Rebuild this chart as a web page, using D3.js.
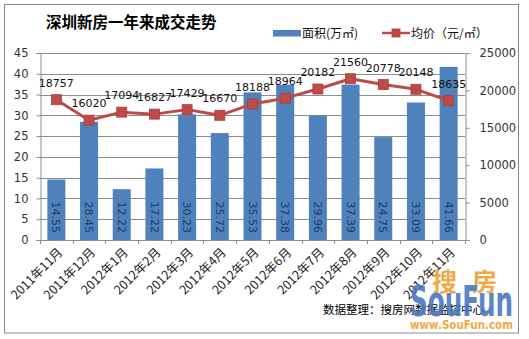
<!DOCTYPE html>
<html>
<head>
<meta charset="utf-8">
<script src="https://cdn.jsdelivr.net/npm/d3@7/dist/d3.min.js"></script>
<style>
  html, body { margin: 0; padding: 0; background: #fff; }
  svg { display: block; }
  text { font-family: "DejaVu Sans", sans-serif; }
  .cjk { font-family: "Noto Sans CJK SC", sans-serif; }
</style>
</head>
<body>
<div id="chart"></div>
<script>
// Monthly figures for Shenzhen new homes
const months = ["2011年11月", "2011年12月", "2012年1月", "2012年2月", "2012年3月", "2012年4月",
  "2012年5月", "2012年6月", "2012年7月", "2012年8月", "2012年9月", "2012年10月", "2012年11月"];
const areaValues = [14.55, 28.45, 12.22, 17.22, 30.23, 25.72, 35.53, 37.38, 29.96, 37.39, 24.75, 33.09, 41.66];
const priceValues = [18757, 16020, 17094, 16827, 17429, 16670, 18188, 18964, 20182, 21560, 20778, 20148, 18635];
const leftTicks = [0, 5, 10, 15, 20, 25, 30, 35, 40, 45];
const rightTicks = [0, 5000, 10000, 15000, 20000, 25000];

const W = 529, H = 339;
const plot = { left: 40, right: 465, top: 53, bottom: 240 };

const svg = d3.select("#chart").append("svg").attr("width", W).attr("height", H);

// outer frame
svg.append("rect").attr("x", 4.5).attr("y", 4.5).attr("width", 514).attr("height", 328.5)
  .attr("fill", "#fff").attr("stroke", "#8a8a8a").attr("stroke-width", 1);

const x = d3.scaleBand().domain(months).range([plot.left, plot.right]).paddingInner(0.45).paddingOuter(0.225);
const yL = d3.scaleLinear().domain([0, 45]).range([plot.bottom, plot.top]);
const yR = d3.scaleLinear().domain([0, 25000]).range([plot.bottom, plot.top]);

// horizontal grid
svg.append("g").selectAll("line").data(leftTicks.filter(d => d > 0)).join("line")
  .attr("x1", plot.left).attr("x2", plot.right)
  .attr("y1", d => Math.round(yL(d)) + 0.5).attr("y2", d => Math.round(yL(d)) + 0.5)
  .attr("stroke", "#8c8c8c").attr("stroke-width", 1);

// left axis
const gL = svg.append("g").attr("transform", `translate(${plot.left + 0.5},0)`)
  .call(d3.axisLeft(yL).tickValues(leftTicks).tickSize(4).tickPadding(8).tickFormat(d3.format("d")));
gL.selectAll("path, line").attr("stroke", "#8c8c8c");
gL.selectAll("text").attr("font-size", 11.5).attr("fill", "#333").attr("font-family", "DejaVu Sans");

// right axis
const gR = svg.append("g").attr("transform", `translate(${plot.right + 0.5},0)`)
  .call(d3.axisRight(yR).tickValues(rightTicks).tickSize(4).tickPadding(10).tickFormat(d3.format("d")));
gR.selectAll("path, line").attr("stroke", "#8c8c8c");
gR.selectAll("text").attr("font-size", 11.5).attr("fill", "#333").attr("font-family", "DejaVu Sans");

// bars
const barW = 18;
svg.append("g").selectAll("rect").data(months).join("rect")
  .attr("x", (d) => x(d) + x.bandwidth() / 2 - barW / 2)
  .attr("y", (d, i) => yL(areaValues[i]))
  .attr("width", barW)
  .attr("height", (d, i) => plot.bottom - yL(areaValues[i]))
  .attr("fill", "#4f81bd");

// bar value labels, rotated, sitting at the base of each bar
svg.append("g").selectAll("text").data(months).join("text")
  .attr("transform", d => `translate(${x(d) + x.bandwidth() / 2},${plot.bottom - 7}) rotate(90)`)
  .attr("text-anchor", "end")
  .attr("dy", "0.35em")
  .attr("font-size", 11)
  .attr("fill", "#1f3a5f")
  .text((d, i) => areaValues[i].toFixed(2));

// bottom axis
const gB = svg.append("g");
gB.append("line").attr("x1", plot.left).attr("x2", plot.right)
  .attr("y1", plot.bottom + 0.5).attr("y2", plot.bottom + 0.5).attr("stroke", "#8c8c8c");
const bounds = d3.range(months.length + 1).map(i => plot.left + (plot.right - plot.left) * i / months.length);
gB.selectAll("line.tk").data(bounds).join("line").attr("class", "tk")
  .attr("x1", d => Math.round(d) + 0.5).attr("x2", d => Math.round(d) + 0.5)
  .attr("y1", plot.bottom).attr("y2", plot.bottom + 4).attr("stroke", "#8c8c8c");
gB.selectAll("text").data(months).join("text")
  .attr("class", "cjk")
  .attr("transform", d => `translate(${x(d) + x.bandwidth() / 2 + 4},${plot.bottom + 10}) rotate(-45)`)
  .attr("text-anchor", "end")
  .attr("dy", "0.35em")
  .attr("font-size", 12.5)
  .attr("fill", "#222")
  .text(d => d);

// price line
const cx = (d) => x(d) + x.bandwidth() / 2;
const line = d3.line().x((d, i) => cx(months[i])).y(d => yR(d));
svg.append("path").datum(priceValues).attr("d", line)
  .attr("fill", "none").attr("stroke", "#be4b48").attr("stroke-width", 3).attr("stroke-linejoin", "round");
const mk = 10;
svg.append("g").selectAll("rect").data(priceValues).join("rect")
  .attr("x", (d, i) => cx(months[i]) - mk / 2)
  .attr("y", d => yR(d) - mk / 2)
  .attr("width", mk).attr("height", mk)
  .attr("fill", "#be4b48").attr("stroke", "#a53f3c").attr("stroke-width", 0.8);
svg.append("g").selectAll("text").data(priceValues).join("text")
  .attr("x", (d, i) => cx(months[i]))
  .attr("y", d => yR(d) - 13)
  .attr("text-anchor", "middle")
  .attr("font-size", 11)
  .attr("fill", "#111")
  .text(d => d);

// title
svg.append("text").attr("class", "cjk").attr("x", 46).attr("y", 28)
  .attr("font-size", 15.5).attr("font-weight", "bold").attr("fill", "#000")
  .text("深圳新房一年来成交走势");

// legend
const lg = svg.append("g");
lg.append("rect").attr("x", 273).attr("y", 30).attr("width", 28).attr("height", 6.5).attr("fill", "#4f81bd");
lg.append("text").attr("class", "cjk").attr("x", 302).attr("y", 37.5).attr("font-size", 12).attr("fill", "#111")
  .text("面积(万㎡)");
lg.append("line").attr("x1", 382).attr("x2", 410).attr("y1", 33).attr("y2", 33)
  .attr("stroke", "#be4b48").attr("stroke-width", 2.5);
lg.append("rect").attr("x", 392).attr("y", 29).attr("width", 8).attr("height", 8)
  .attr("fill", "#be4b48").attr("stroke", "#a53f3c").attr("stroke-width", 0.8);
lg.append("text").attr("class", "cjk").attr("x", 411).attr("y", 37.5).attr("font-size", 12).attr("fill", "#111")
  .text("均价（元/㎡）");

// source note and site mark drawn over it
svg.append("text").attr("class", "cjk").attr("x", 323).attr("y", 314)
  .attr("font-size", 11.5).attr("fill", "#000").text("数据整理：搜房网数据监控中心");
const mark = svg.append("g").attr("opacity", 0.9);
mark.append("text").attr("class", "cjk").attr("x", 432).attr("y", 291)
  .attr("font-size", 25).attr("font-weight", "bold")
  .attr("textLength", 65).attr("lengthAdjust", "spacing")
  .attr("fill", "#f0a030").text("搜房");
mark.append("text").attr("transform", "translate(410,316) scale(1,1.3)")
  .attr("font-family", "Liberation Serif").attr("font-weight", "bold")
  .attr("textLength", 103).attr("lengthAdjust", "spacingAndGlyphs")
  .attr("font-size", 33).attr("fill", "#4a78bf").text("SouFun");
mark.append("text").attr("x", 410).attr("y", 329)
  .attr("font-family", "Liberation Sans").attr("font-weight", "bold")
  .attr("textLength", 103).attr("lengthAdjust", "spacingAndGlyphs")
  .attr("font-size", 11.5).attr("fill", "#f0a030").text("www.SouFun.com");
</script>
</body>
</html>
